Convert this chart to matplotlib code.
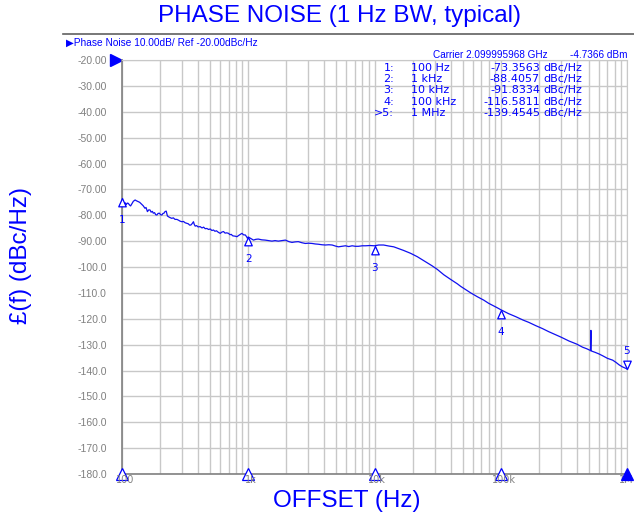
import numpy as np
import matplotlib
matplotlib.use("Agg")
import matplotlib.pyplot as plt
from matplotlib.path import Path

# ---- data ----
freq_hz = [
    # 100 Hz .. 1 kHz (noisy part)
    100, 102, 104, 106, 108, 110, 112, 115, 117, 120, 123, 127, 130, 135, 138,
    143, 147, 152, 155, 159, 163, 167, 170, 174, 177, 181, 185, 189, 193, 198,
    202, 207, 211, 215, 219, 224, 229, 234, 240, 248, 255, 263, 272, 280, 289,
    298, 307, 316, 326, 335, 343, 351, 360, 368, 374, 380, 390, 400, 416, 430,
    443, 456, 470, 485, 500, 515, 530, 545, 560, 580, 600, 618, 637, 655, 675,
    698, 715, 735, 750, 764, 790, 814, 840, 865, 891, 920, 947, 970, 985, 1000,
    # 1 kHz .. 10 kHz
    1050, 1100, 1150, 1200, 1280, 1360, 1450, 1540, 1630, 1730, 1850, 1970,
    2100, 2220, 2350, 2490, 2650, 2830, 3000, 3200, 3400, 3590, 3830, 4080,
    4350, 4620, 4900, 5180, 5500, 5890, 6250, 6650, 7050, 7460, 8000, 8490,
    9200, 10000,
    # 10 kHz .. 100 kHz
    10800, 11800, 13000, 14200, 15500, 17000, 19300, 21800, 24500, 26200,
    28500, 31400, 35400, 40100, 45300, 48200, 53000, 57800, 65300, 73300,
    80000, 88500, 94200, 100000,
    # 100 kHz .. 1 MHz (spur near 518 kHz)
    115000, 131500, 150000, 166800, 190000, 214000, 240000, 273000, 300000,
    347000, 400000, 445000, 480000, 515000, 518000, 518000, 560000, 600000,
    641000, 700000, 770000, 820000, 865000, 920000, 982000, 1000000,
]
noise_dbc = [
    -74.1, -75.5, -76.0, -75.2, -75.9, -75.3, -75.4, -76.1, -76.4, -75.5,
    -74.6, -74.1, -74.4, -74.8, -75.0, -75.7, -76.3, -77.3, -77.0, -78.6,
    -77.9, -78.0, -78.8, -78.5, -79.2, -79.0, -79.8, -79.9, -79.3, -79.2,
    -79.8, -79.9, -79.3, -79.2, -78.6, -78.4, -80.3, -80.6, -80.9, -81.2,
    -81.0, -81.6, -81.6, -81.9, -82.3, -82.5, -82.4, -82.9, -83.1, -83.3,
    -83.8, -83.8, -83.2, -82.5, -83.6, -84.2, -84.0, -84.5, -84.4, -84.9,
    -84.6, -85.2, -85.1, -85.5, -85.3, -85.9, -85.7, -86.2, -86.0, -86.6,
    -87.0, -86.5, -86.3, -86.9, -86.8, -87.0, -87.5, -87.4, -87.9, -88.0,
    -88.1, -88.3, -87.8, -87.4, -87.0, -87.6, -87.6, -88.3, -88.9, -88.4,
    -89.0, -89.6, -89.3, -89.2, -89.5, -89.6, -89.8, -90.0, -89.8, -90.0,
    -89.8, -89.6, -90.2, -90.5, -90.3, -90.2, -90.6, -90.9, -90.8, -90.9,
    -91.1, -91.2, -91.4, -91.5, -91.4, -91.5, -91.9, -92.2, -92.0, -91.8,
    -92.1, -91.8, -92.0, -92.0, -91.8, -91.8, -91.7, -91.8,
    -91.5, -91.5, -91.9, -92.2, -92.9, -93.6, -94.7, -96.0, -97.5, -98.4,
    -99.5, -100.9, -103.0, -104.8, -106.5, -107.5, -108.8, -110.0, -111.5,
    -112.8, -114.0, -115.1, -115.8, -116.5,
    -118.0, -119.2, -120.5, -121.4, -122.7, -123.8, -125.0, -126.2, -127.1,
    -128.6, -129.8, -131.0, -131.6, -132.3, -124.5, -132.4, -133.0, -133.6,
    -134.3, -135.3, -136.0, -136.9, -137.8, -138.6, -139.2, -139.45,
]

marker_freq = [100, 1000, 10000, 100000, 1000000]
marker_dbc = [-73.3563, -88.4057, -91.8334, -116.5811, -139.4545]
marker_names = ["1:", "2:", "3:", "4:", ">5:"]
marker_freq_txt = ["100 Hz", "1 kHz", "10 kHz", "100 kHz", "1 MHz"]

x_ticks = [100, 1000, 10000, 100000, 1000000]
x_tick_labels = ["100", "1k", "10k", "100k", "1M"]
y_ticks = list(range(-20, -190, -10))

BLUE = "#0000ff"
TRACE = "#1010f0"
GRID = "#c8c8c8"
GRAY = "#808080"

W, H = 634, 520
fig = plt.figure(figsize=(W / 100, H / 100), dpi=100)


def px(x, y):
    return x / W, 1 - y / H


ax = fig.add_axes([122 / W, 1 - 474 / H, 505 / W, 414 / H])
ax.set_xscale("log")
ax.set_xlim(100, 1e6)
ax.set_ylim(-180, -20)

ax.plot(freq_hz, noise_dbc, color=TRACE, lw=0.9, zorder=3)

# grid
ax.set_yticks(y_ticks)
ax.set_yticklabels([f"{v:.2f}" if v > -100 else f"{v:.1f}" for v in y_ticks])
ax.set_xticks(x_ticks)
ax.set_xticklabels([])
ax.grid(True, which="major", color=GRID, lw=1.0)
ax.grid(True, which="minor", axis="x", color=GRID, lw=1.0)
ax.tick_params(axis="both", which="both", length=0, labelsize=7.5, labelcolor=GRAY, pad=11)
for lab in ax.get_yticklabels():
    lab.set_family("Liberation Sans")
for s in ["top", "right"]:
    ax.spines[s].set_color(GRID)
for s in ["left", "bottom"]:
    ax.spines[s].set_color(GRAY)
    ax.spines[s].set_linewidth(1.2)

# marker shapes (apex on the trace)
tri_up = Path([(0, 0), (-0.45, -1), (0.45, -1), (0, 0)],
              [Path.MOVETO, Path.LINETO, Path.LINETO, Path.CLOSEPOLY])
tri_dn = Path([(0, 0), (-0.45, 1), (0.45, 1), (0, 0)],
              [Path.MOVETO, Path.LINETO, Path.LINETO, Path.CLOSEPOLY])
for i, (f, d) in enumerate(zip(marker_freq, marker_dbc)):
    if i < 4:
        ax.plot([f], [d], marker=tri_up, ms=12, mfc="white", mec=BLUE, mew=0.9,
                zorder=4, clip_on=False)
        ax.annotate(str(i + 1), (f, d), xytext=(0, -16), textcoords="offset points",
                    ha="center", va="center", color=BLUE, fontsize=7.5)
    else:
        ax.plot([f], [d], marker=tri_dn, ms=12, mfc="white", mec=BLUE, mew=0.9,
                zorder=4, clip_on=False)
        ax.annotate("5", (f, d), xytext=(0, 13), textcoords="offset points",
                    ha="center", va="center", color=BLUE, fontsize=7.5)

# stimulus markers along the bottom + decade labels
for i, (f, lab) in enumerate(zip(x_ticks, x_tick_labels)):
    ax.plot([f], [-180], marker="^", ms=9, mfc=BLUE if i == 4 else "white",
            mec=BLUE, mew=0.9, zorder=5, clip_on=False)
    if i < 4:
        ax.annotate(lab, (f, -180), xytext=(2, -4), textcoords="offset points",
                    ha="center", va="center", color=GRAY, fontsize=7, zorder=6,
                    annotation_clip=False)
    else:
        ax.annotate(lab, (f, -180), xytext=(4.5, -4), textcoords="offset points",
                    ha="right", va="center", color=GRAY, fontsize=7, zorder=4,
                    annotation_clip=False)

# reference level arrow
ax.plot([-0.012], [-20], marker=">", ms=8, color=BLUE, clip_on=False,
        transform=ax.get_yaxis_transform())

# header line and header text
fig.add_artist(plt.Line2D([63 / W, 1.0], [1 - 34 / H, 1 - 34 / H], color="#606060", lw=1.2))
fig.text(*px(66, 43), "\u25b6Phase Noise 10.00dB/ Ref -20.00dBc/Hz", color=BLUE,
         fontsize=7.3, va="center", ha="left", family=["Liberation Sans", "DejaVu Sans"])
fig.text(*px(433, 55), "Carrier 2.099995968 GHz", color=BLUE, fontsize=7.2,
         va="center", ha="left", family="Liberation Sans")
fig.text(*px(628, 55), "-4.7366 dBm", color=BLUE, fontsize=7.2,
         va="center", ha="right", family="Liberation Sans")

# marker table
for i in range(5):
    y = 68 + i * 11.2
    fig.text(*px(394, y), marker_names[i], color=BLUE, fontsize=8, ha="right", va="center")
    fig.text(*px(411, y), marker_freq_txt[i], color=BLUE, fontsize=8, ha="left", va="center")
    fig.text(*px(540, y), f"{marker_dbc[i]:.4f}", color=BLUE, fontsize=8, ha="right", va="center")
    fig.text(*px(543, y), "dBc/Hz", color=BLUE, fontsize=8, ha="left", va="center")

# titles
fig.text(*px(340, 16), "PHASE NOISE (1 Hz BW, typical)", color=BLUE, fontsize=17.5,
         ha="center", va="center", family="Liberation Sans")
fig.text(*px(347, 501), "OFFSET (Hz)", color=BLUE, fontsize=17.5,
         ha="center", va="center", family="Liberation Sans")
fig.text(*px(21, 255), "\u00a3(f) (dBc/Hz)", color=BLUE, fontsize=17.5, rotation=90,
         ha="center", va="center", family="Liberation Sans")

fig.savefig("out.png", dpi=100)
